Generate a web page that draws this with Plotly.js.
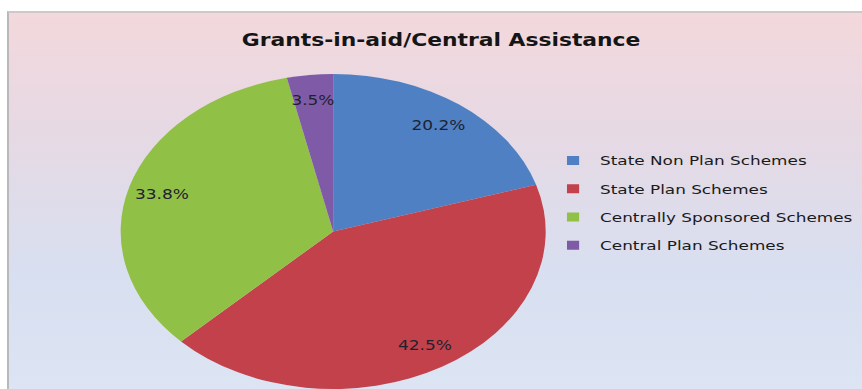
<!DOCTYPE html>
<html>
<head>
<meta charset="utf-8">
<script src="https://cdn.plot.ly/plotly-3.0.1.min.js"></script>
<style>
  html, body { margin: 0; padding: 0; background: #ffffff; width: 862px; height: 389px; overflow: hidden; }
  #bg {
    position: absolute; left: 7px; top: 11px; width: 900px; height: 400px;
    border-left: 2px solid #b9b9b9; border-top: 2px solid #cfc8c8;
    background: linear-gradient(to bottom, #f3d8dc 0%, #e6d9e4 30%, #d8dff0 65%, #dde6f5 100%);
  }
  #chart {
    position: absolute; left: 0; top: 0; width: 639px; height: 389px;
    transform: scaleX(1.34898); transform-origin: 0 0;
  }
</style>
</head>
<body>
<div id="bg"></div>
<div id="chart"></div>
<script>
// Data
const categories = ["State Non Plan Schemes", "State Plan Schemes", "Centrally Sponsored Schemes", "Central Plan Schemes"];
const shares = [20.2, 42.5, 33.8, 3.5];
const colors = ["#4f80c3", "#c2414a", "#91c047", "#7f5aa7"];
const chartTitle = "Grants-in-aid/Central Assistance";

const W = 639, H = 389;
const domX = [0.139, 0.634], domY = [0, 0.81];
const labelRadius = 0.84; // fraction of pie radius where data labels sit

const pie = {
  type: "pie",
  labels: categories,
  values: shares,
  sort: false,
  direction: "clockwise",
  rotation: 0,
  marker: { colors: colors, line: { width: 0 } },
  textinfo: "none",
  domain: { x: domX, y: domY },
  showlegend: false,
  hoverinfo: "label+percent"
};

// Data labels placed at each slice's mid-angle, computed from the shares
const total = shares.reduce((a, b) => a + b, 0);
const rPx = Math.min((domX[1] - domX[0]) * W, (domY[1] - domY[0]) * H) / 2;
const cx = (domX[0] + domX[1]) / 2, cy = (domY[0] + domY[1]) / 2;
let cum = 0;
const labelAnnotations = shares.map((v) => {
  const mid = (cum + v / 2) / total * 2 * Math.PI;
  cum += v;
  return {
    xref: "paper", yref: "paper",
    x: cx + labelRadius * rPx * Math.sin(mid) / W,
    y: cy + labelRadius * rPx * Math.cos(mid) / H,
    xanchor: "center", yanchor: "middle",
    text: (v / total * 100).toFixed(1) + "%",
    showarrow: false,
    font: { family: "DejaVu Sans Condensed, DejaVu Sans, sans-serif", size: 14, color: "#1e2230" }
  };
});

// Legend entries (no visible points), one per category
const legendTraces = categories.map((name, i) => ({
  type: "scatter",
  mode: "markers",
  x: [null], y: [null],
  name: name,
  legendgroup: "g" + i,
  marker: { symbol: "square", size: 9, color: colors[i] },
  showlegend: true,
  hoverinfo: "skip"
}));

const layout = {
  width: W, height: H,
  margin: { l: 0, r: 0, t: 0, b: 0 },
  paper_bgcolor: "rgba(0,0,0,0)",
  plot_bgcolor: "rgba(0,0,0,0)",
  title: {
    text: chartTitle,
    x: 0.5117, xanchor: "center",
    y: 0.897, yref: "container", yanchor: "middle",
    font: { family: "DejaVu Sans Condensed, DejaVu Sans, sans-serif", size: 18, weight: "bold", color: "#151515" }
  },
  xaxis: { visible: false },
  yaxis: { visible: false },
  annotations: labelAnnotations,
  showlegend: true,
  legend: {
    x: 0.6335, xanchor: "left",
    y: 0.625, yanchor: "top",
    bgcolor: "rgba(0,0,0,0)",
    borderwidth: 0,
    traceorder: "grouped",
    tracegroupgap: 9,
    itemclick: false,
    font: { family: "DejaVu Sans, sans-serif", size: 12.5, color: "#1a1a1a" }
  }
};

Plotly.newPlot("chart", [pie, ...legendTraces], layout, { displayModeBar: false, staticPlot: true });
</script>
</body>
</html>
